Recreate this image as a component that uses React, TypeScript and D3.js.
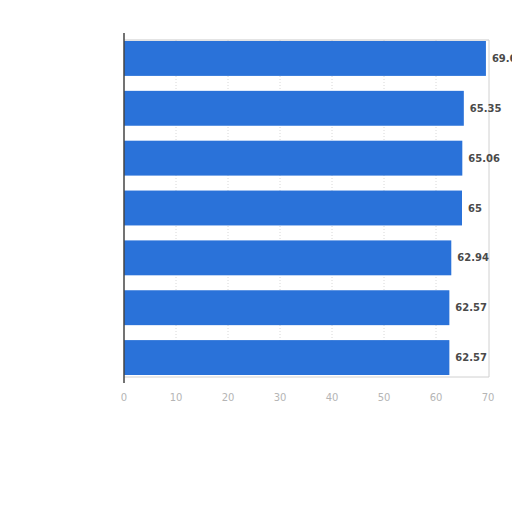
import React from "react";
import * as d3 from "d3";

const categories = ["A", "B", "C", "D", "E", "F", "G"];
const values = [69.6, 65.35, 65.06, 65, 62.94, 62.57, 62.57];
const tickValues = [0, 10, 20, 30, 40, 50, 60, 70];

const width = 512;
const height = 512;
const left = 124;
const right = 488;
const top = 40;
const bottom = 376;

const App: React.FC = () => {
  const x = d3.scaleLinear().domain([0, 70]).range([left, right]);
  const y = d3
    .scaleBand<string>()
    .domain(categories)
    .range([top, bottom])
    .paddingInner(0.3)
    .paddingOuter(0.02);

  return (
    <svg
      width={width}
      height={height}
      style={{ position: "absolute", left: 0, top: 0, background: "#fff" }}
    >
      {/* grid */}
      {tickValues.slice(1, -1).map((t) => (
        <line
          key={"g" + t}
          x1={x(t)}
          x2={x(t)}
          y1={top}
          y2={bottom}
          stroke="#d8d8d8"
          strokeDasharray="1,2"
        />
      ))}
      {/* frame */}
      <line x1={left} x2={right + 1} y1={top} y2={top} stroke="#c8c8c8" />
      <line x1={left} x2={right + 1} y1={bottom + 1} y2={bottom + 1} stroke="#d0d0d0" />
      <line x1={right + 1} x2={right + 1} y1={top} y2={bottom + 1} stroke="#d0d0d0" />

      {values.map((v, i) => (
        <g key={categories[i]}>
          <rect
            x={x(0)}
            y={y(categories[i])}
            width={x(v) - x(0)}
            height={y.bandwidth()}
            fill="#2a72d9"
          />
          <text
            x={x(v) + 6}
            y={(y(categories[i]) as number) + y.bandwidth() / 2}
            dy="0.35em"
            fontFamily="'DejaVu Sans', sans-serif"
            fontSize={10}
            fontWeight="bold"
            fill="#4a4a4a"
          >
            {v}
          </text>
        </g>
      ))}

      {/* left axis */}
      <line x1={left} x2={left} y1={33} y2={383} stroke="#444" strokeWidth={1.5} />

      {tickValues.map((t) => (
        <text
          key={"t" + t}
          x={x(t)}
          y={401}
          textAnchor="middle"
          fontFamily="'DejaVu Sans', sans-serif"
          fontSize={10}
          fill="#b5b5b5"
        >
          {t}
        </text>
      ))}
    </svg>
  );
};

export default App;
